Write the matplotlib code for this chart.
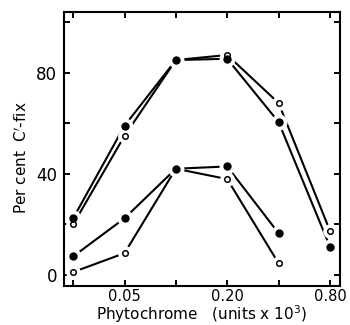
import numpy as np
from matplotlib import pyplot as plt

plt.rcParams['font.family'] = ['DejaVu Sans']

x = [0.025, 0.05, 0.1, 0.2, 0.4, 0.8]
upper_filled = [22.4, 59.0, 85.0, 85.5, 60.5, 11.2]
upper_open = [20.0, 55.0, 85.0, 87.0, 68.0, 17.5]
x_low = [0.025, 0.05, 0.1, 0.2, 0.4]
lower_filled = [7.3, 22.4, 42.0, 42.9, 16.5]
lower_open = [1.1, 8.6, 42.0, 37.9, 4.6]

xtick_labels = ['', '0.05', '', '0.20', '', '0.80']
yticks = [0, 20, 40, 60, 80, 100]
ytick_labels = ['0', '', '40', '', '80', '']

fig = plt.figure(figsize=(3.5, 3.25), dpi=100)
ax = fig.add_axes([0.183, 0.12, 0.788, 0.843])


def series(xs, ys, filled, skip=None):
    idx = [i for i in range(len(xs)) if i != skip]
    ax.plot(xs, ys, color='black', lw=1.5, zorder=1)
    mx = [xs[i] for i in idx]
    my = [ys[i] for i in idx]
    # white halo makes the gap between line and point
    ax.plot(mx, my, 'o', ms=10.5 if filled else 9.5, color='white', zorder=2)
    if filled:
        ax.plot(mx, my, 'o', ms=5, color='black', zorder=3)
    else:
        ax.plot(mx, my, 'o', ms=4, mfc='white', mec='black', mew=1.1, zorder=3)


series(x, upper_open, False, skip=2)
series(x_low, lower_open, False, skip=2)
series(x, upper_filled, True)
series(x_low, lower_filled, True)

ax.set_xscale('log', base=2)
ax.set_xlim(0.0221, 0.915)
ax.set_ylim(-4.4, 104)
ax.set_xticks(x)
ax.set_xticklabels(xtick_labels)
ax.minorticks_off()
ax.set_yticks(yticks)
ax.set_yticklabels(ytick_labels)
ax.tick_params(direction='in', length=4, width=1.4, top=True, right=True,
               labelsize=12, pad=5)
ax.tick_params(axis='x', labelsize=10.5, pad=2.5)
for s in ax.spines.values():
    s.set_linewidth(1.5)

ax.set_xlabel('Phytochrome   (units x 10$^3$)', fontsize=11, labelpad=-0.5)
ax.set_ylabel('Per cent  C$^{\\prime}$-fix', fontsize=11)
ax.yaxis.set_label_coords(-0.125, 0.47)

fig.savefig('out.png', dpi=100)
